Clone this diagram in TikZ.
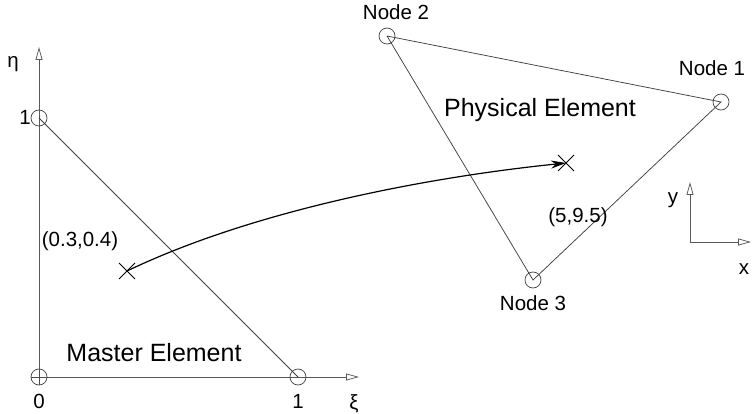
\documentclass[tikz,border=0pt]{standalone}
\usepackage{fontspec}
\setmainfont{Liberation Sans}
\usepackage{tikz}
\usetikzlibrary{arrows.meta,calc}

\begin{document}
\begin{tikzpicture}[x=1pt, y=-1pt,
  nd/.style={circle, draw=black!75, line width=0.7pt, minimum size=16pt, inner sep=0pt},
  edge/.style={black!75, line width=0.75pt},
  ax/.style={-{Triangle[open, length=13pt, width=7pt]}, black!65, line width=0.75pt},
  crossmark/.style={black, line width=0.9pt},
  biglab/.style={font=\fontsize{25}{30}\selectfont},
  lab/.style={font=\fontsize{20.5}{24}\selectfont}]
\useasboundingbox (0,0) rectangle (752,414);
% ---- master element ----
\coordinate (o) at (39,377);
\coordinate (etatip) at (39,47);
\coordinate (xitip) at (359,377);
\draw[ax] (o) -- (etatip);
\draw[ax] (o) -- (xitip);
\node[nd] (m0) at (o) {};
\node[nd] (m1) at (298,377) {};
\node[nd] (m2) at (39,118) {};
\draw[edge] (m2.center) -- (m1.center);
\draw[black!70, line width=0.7pt] (m0.west) -- (m0.east) (m0.north) -- (m0.south);
\node[lab] (eta) at (13,64) {η};
\node[lab] (xi) at (354,404) {ξ};
\node[lab] (one2) at (25,117) {1};
\node[lab] (zero) at (39,401) {0};
\node[lab] (one1) at (298,401) {1};
\node[biglab] (mname) at (154,353) {Master Element};
% ---- physical element ----
\node[nd] (p2) at (387,36) {};
\node[nd] (p1) at (721,102) {};
\node[nd] (p3) at (533,280) {};
\draw[edge] (p2.center) -- (p1.center) -- (p3.center) -- (p2.center);
\node[lab] (l2) at (396,12) {Node 2};
\node[lab] (l1) at (712,68) {Node 1};
\node[lab] (l3) at (533,303) {Node 3};
\node[biglab] (pname) at (540,110) {Physical Element};
% ---- mapped point ----
\coordinate (a) at (127,271);
\coordinate (b) at (566,163);
\draw[crossmark] ($(a)+(-8,-8)$) -- ($(a)+(8,8)$) ($(a)+(-8,8)$) -- ($(a)+(8,-8)$);
\draw[crossmark] ($(b)+(-8,-8)$) -- ($(b)+(8,8)$) ($(b)+(-8,8)$) -- ($(b)+(8,-8)$);
\node[lab] (la) at (80,241) {(0.3,0.4)};
\node[lab] (lb) at (578,217) {(5,9.5)};
\draw[-{Stealth[length=15pt, width=8pt]}, line width=1.2pt]
  (a) .. controls (250,212) and (420,178) .. (b);
% ---- xy axes ----
\coordinate (xo) at (690,242);
\coordinate (ytip) at (690,182);
\coordinate (xtip) at (751,242);
\draw[ax] (xo) -- (ytip);
\draw[ax] (xo) -- (xtip);
\node[lab] (ly) at (673,200) {y};
\node[lab] (lx) at (744,269) {x};
\end{tikzpicture}
\end{document}
